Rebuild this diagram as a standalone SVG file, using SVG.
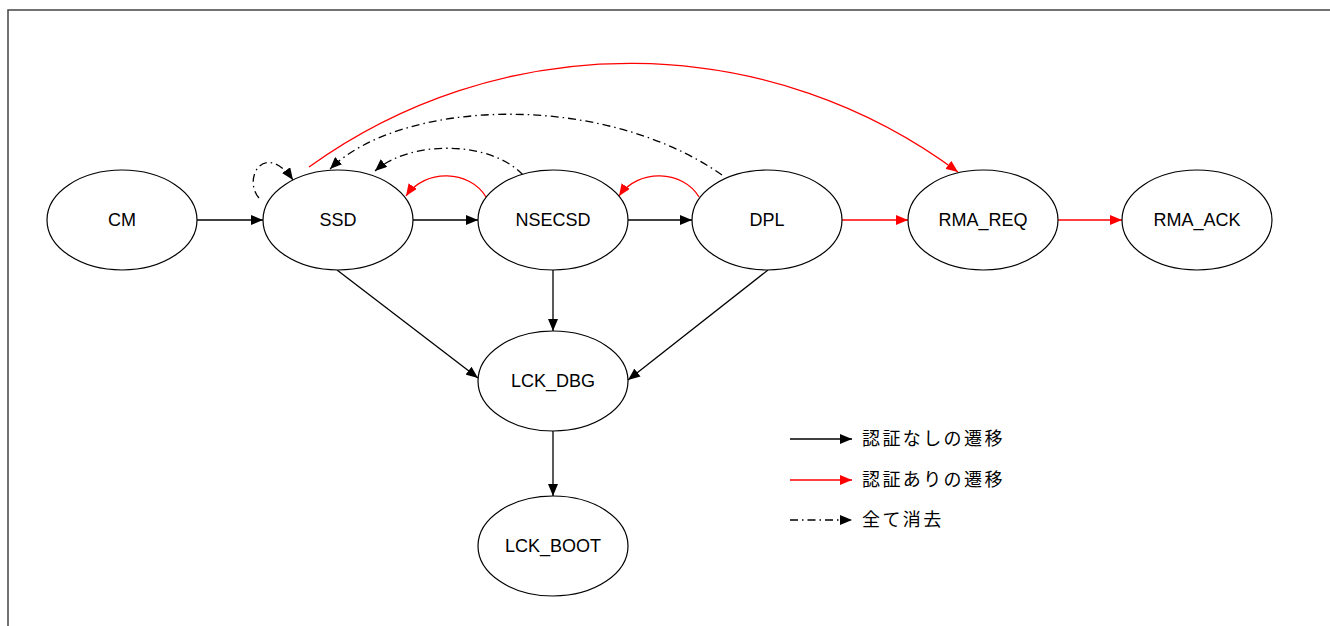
<svg xmlns="http://www.w3.org/2000/svg" width="1330" height="626" viewBox="0 0 1330 626">
<style>
.node ellipse{fill:#fff;stroke:#000;stroke-width:1.2}
.node text{font-family:"Liberation Sans",Arial,sans-serif;font-size:18px;fill:#000;text-anchor:middle;dominant-baseline:central}
.e{fill:none;stroke:#000;stroke-width:1.3}
.r{stroke:#f00}
.d{stroke-dasharray:8 4 1.5 4}
.lg{font-family:"Liberation Sans","Noto Sans CJK JP",sans-serif;font-size:18px;letter-spacing:2.4px;fill:#000;dominant-baseline:central}
</style>
<defs>
<marker id="ab" viewBox="0 0 12 10" refX="12" refY="5" markerWidth="12" markerHeight="10" markerUnits="userSpaceOnUse" orient="auto"><path d="M0,0 L12,5 L0,10 Z" fill="#000" stroke="none"/></marker>
<marker id="ar" viewBox="0 0 12 10" refX="12" refY="5" markerWidth="12" markerHeight="10" markerUnits="userSpaceOnUse" orient="auto"><path d="M0,0 L12,5 L0,10 Z" fill="#f00" stroke="none"/></marker>
</defs>
<rect x="8" y="10" width="1400" height="700" fill="none" stroke="#444" stroke-width="1.5"/>
<g id="connectors">
<path class="e" d="M197,220 H263" marker-end="url(#ab)"/>
<path class="e" d="M413,220 H478" marker-end="url(#ab)"/>
<path class="e" d="M628,220 H692" marker-end="url(#ab)"/>
<path class="e r" d="M842,220 H908" marker-end="url(#ar)"/>
<path class="e r" d="M1058,220 H1122" marker-end="url(#ar)"/>
<path class="e" d="M553,270 V331" marker-end="url(#ab)"/>
<path class="e" d="M337,270 L478,378" marker-end="url(#ab)"/>
<path class="e" d="M768,270 L628,380" marker-end="url(#ab)"/>
<path class="e" d="M553,431 V496" marker-end="url(#ab)"/>
<path class="e r" d="M486,197 C470,170 425,168 406,196" marker-end="url(#ar)"/>
<path class="e r" d="M699,197 C683,170 638,168 619,196" marker-end="url(#ar)"/>
<path class="e r" d="M309,167 A549,549 0 0 1 958,172" marker-end="url(#ar)"/>
<path class="e d" d="M722,175 C600,90 400,100 330,169" marker-end="url(#ab)"/>
<path class="e d" d="M523,175 C490,140 410,140 375,171" marker-end="url(#ab)"/>
<path class="e d" d="M259,198 C242,178 265,140 293,180" marker-end="url(#ab)"/>
</g>
<g id="node-cm" class="node"><ellipse cx="122" cy="220" rx="75" ry="50"/><text x="122" y="220">CM</text></g>
<g id="node-ssd" class="node"><ellipse cx="338" cy="220" rx="75" ry="50"/><text x="338" y="220">SSD</text></g>
<g id="node-nsecsd" class="node"><ellipse cx="553" cy="220" rx="75" ry="50"/><text x="553" y="220">NSECSD</text></g>
<g id="node-dpl" class="node"><ellipse cx="767" cy="220" rx="75" ry="50"/><text x="767" y="220">DPL</text></g>
<g id="node-rma-req" class="node"><ellipse cx="983" cy="220" rx="75" ry="50"/><text x="983" y="220">RMA_REQ</text></g>
<g id="node-rma-ack" class="node"><ellipse cx="1197" cy="220" rx="75" ry="50"/><text x="1197" y="220">RMA_ACK</text></g>
<g id="node-lck-dbg" class="node"><ellipse cx="553" cy="381" rx="75" ry="50"/><text x="553" y="381">LCK_DBG</text></g>
<g id="node-lck-boot" class="node"><ellipse cx="553" cy="546" rx="75" ry="50"/><text x="553" y="546">LCK_BOOT</text></g>
<g id="legend">
<path class="e" d="M790,439 H852" marker-end="url(#ab)"/>
<path class="e r" d="M790,480 H852" marker-end="url(#ar)"/>
<path class="e d" d="M790,520 H852" marker-end="url(#ab)"/>
<text class="lg" x="862" y="439">認証なしの遷移</text>
<text class="lg" x="862" y="480">認証ありの遷移</text>
<text class="lg" x="862" y="520">全て消去</text>
</g>
</svg>
